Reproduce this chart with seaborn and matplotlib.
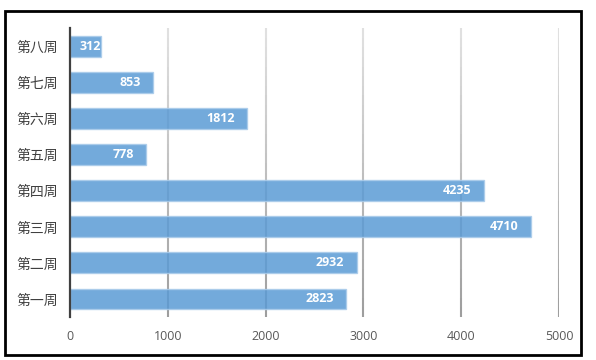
import matplotlib
matplotlib.use('Agg')
import matplotlib.pyplot as plt
import seaborn as sns
import numpy as np
import pandas as pd
from matplotlib.patches import Rectangle

# chart data (top to bottom as shown)
weeks = ['第八周', '第七周', '第六周', '第五周', '第四周', '第三周', '第二周', '第一周']
values = [312, 853, 1812, 778, 4235, 4710, 2932, 2823]
x_ticks = [0, 1000, 2000, 3000, 4000, 5000]

df = pd.DataFrame({'week': weeks, 'value': values})

sns.set_style('white')
plt.rcParams['font.family'] = ['Open Sans', 'Noto Sans CJK SC', 'DejaVu Sans']

fig = plt.figure(figsize=(5.96, 3.6), dpi=100)
ax = fig.add_axes([70 / 596, 1 - 317 / 360, (559 - 70) / 596, (317 - 28) / 360])

ylim = (7.5, -0.52)

# vertical gridlines, light at the top and darker towards the bottom
n_seg = 30
edges = np.linspace(ylim[1], ylim[0], n_seg + 1)
shades = np.linspace(0.88, 0.62, n_seg)
for t in x_ticks[1:]:
    for i in range(n_seg):
        ax.vlines(t, edges[i], edges[i + 1], color=str(shades[i]), lw=1.5, zorder=0)

sns.barplot(data=df, x='value', y='week', order=weeks, orient='h',
            color='#5b9bd5', saturation=1, alpha=0.85, width=0.58,
            edgecolor='#a9cbea', linewidth=1, ax=ax, zorder=2)

# value labels inside bar ends
for bar, v in zip(ax.patches, values):
    y = bar.get_y() + bar.get_height() / 2
    if v < 500:
        t = ax.annotate(f'{v}', xy=(0, y), xytext=(7, 0), textcoords='offset points',
                        ha='left', va='center', color='white', fontsize=9,
                        fontweight='bold', family=['Open Sans', 'DejaVu Sans'], zorder=3)
        t.set_clip_path(bar)
    else:
        ax.annotate(f'{v}', xy=(v, y), xytext=(-9, 0), textcoords='offset points',
                    ha='right', va='center', color='white', fontsize=9,
                    fontweight='bold', family=['Open Sans', 'DejaVu Sans'], zorder=3)

ax.set_xlim(0, 5000)
ax.set_ylim(*ylim)
ax.set_xticks(x_ticks)
ax.set_xticklabels([str(t) for t in x_ticks])
ax.set_xlabel('')
ax.set_ylabel('')
ax.tick_params(axis='x', length=0, pad=9, labelsize=9, labelcolor='#595959')
ax.tick_params(axis='y', length=0, pad=9, labelsize=10, labelcolor='#404040')
for lab in ax.get_yticklabels():
    lab.set_family(['Noto Sans CJK SC', 'DejaVu Sans'])

for s in ['top', 'right', 'bottom']:
    ax.spines[s].set_visible(False)
ax.spines['left'].set_color('#404040')
ax.spines['left'].set_linewidth(1.6)

# outer frame
fig.patches.append(Rectangle((5 / 596, 1 - 355 / 360), 576 / 596, 344 / 360,
                             transform=fig.transFigure, fill=False,
                             edgecolor='black', lw=2))

fig.savefig('out.png', dpi=100)
